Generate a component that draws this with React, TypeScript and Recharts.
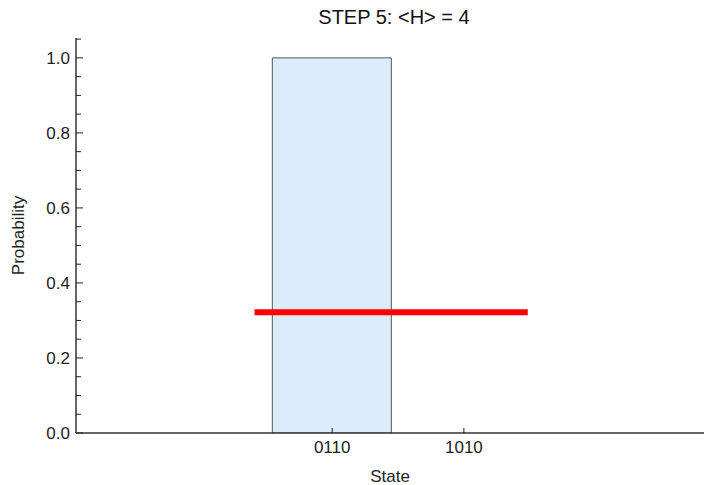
import { ComposedChart, Bar, XAxis, YAxis, ReferenceLine } from "recharts";

document.body.style.margin = "0";

const states = ["0110", "1010"];
const positions = [1, 2];
const probabilities: (number | null)[] = [1.0, null];
const yMajorTicks = [0, 0.2, 0.4, 0.6, 0.8, 1.0];
const yAllTicks = [
  0, 0.05, 0.1, 0.15, 0.2, 0.25, 0.3, 0.35, 0.4, 0.45, 0.5, 0.55, 0.6, 0.65,
  0.7, 0.75, 0.8, 0.85, 0.9, 0.95, 1.0, 1.05,
];
const energyLevel = 0.322;
const energySpan = [0.41, 2.485];

const data = positions.map((x, i) => ({ x, p: probabilities[i] }));

const font = "'Liberation Sans', Arial, sans-serif";

function YTick(props: any) {
  const { x, y, payload } = props;
  const v = payload.value;
  const major = yMajorTicks.some((m) => Math.abs(m - v) < 1e-6);
  return (
    <g>
      <line x1={x} x2={x + (major ? 7 : 5)} y1={y} y2={y} stroke="#222" strokeWidth={1} />
      {major && (
        <text x={x - 6} y={y} dy={6} textAnchor="end" fontSize={17} fill="#222" fontFamily={font}>
          {v.toFixed(1)}
        </text>
      )}
    </g>
  );
}

function XTick(props: any) {
  const { x, y, payload } = props;
  const i = positions.indexOf(payload.value);
  return (
    <g>
      <line x1={x} x2={x} y1={y} y2={y - 5} stroke="#222" strokeWidth={1} />
      <text x={x} y={y + 20} textAnchor="middle" fontSize={17} fill="#222" fontFamily={font}>
        {states[i]}
      </text>
    </g>
  );
}

function TopTick(props: any) {
  const { x, y } = props;
  return <line x1={x} x2={x} y1={y} y2={y + 5} stroke="#222" strokeWidth={1} />;
}

export default function App() {
  return (
    <div style={{ width: 704, height: 485, position: "relative", background: "#fff" }}>
      <div
        style={{
          position: "absolute",
          top: 6,
          left: 76,
          width: 636,
          textAlign: "center",
          fontFamily: font,
          fontSize: 20,
          color: "#111",
        }}
      >
        STEP 5: &lt;H&gt; = 4
      </div>
      <ComposedChart
        width={704}
        height={485}
        data={data}
        margin={{ top: 38, right: 0, bottom: 0, left: 0 }}
      >
        <XAxis
          dataKey="x"
          type="number"
          domain={[-0.945, 3.823]}
          ticks={positions}
          allowDataOverflow
          height={52}
          tickSize={0}
          tickMargin={0}
          tickLine={false}
          tick={<XTick />}
          axisLine={{ stroke: "#333", strokeWidth: 1.5 }}
          label={{ value: "State", position: "insideBottom", offset: 3, fontSize: 17, fill: "#222", fontFamily: font }}
        />
        <XAxis
          xAxisId="top"
          dataKey="x"
          type="number"
          orientation="top"
          domain={[-0.945, 3.823]}
          ticks={positions}
          allowDataOverflow
          height={0}
          tickSize={0}
          tickMargin={0}
          tickLine={false}
          tick={<TopTick />}
          axisLine={{ stroke: "#333", strokeWidth: 1.5 }}
        />
        <YAxis
          type="number"
          domain={[0, 1.053]}
          ticks={yAllTicks}
          allowDataOverflow
          width={76}
          tickSize={0}
          tickMargin={0}
          tickLine={false}
          tick={<YTick />}
          interval={0}
          axisLine={{ stroke: "#333", strokeWidth: 1.5 }}
          label={{ value: "Probability", angle: -90, position: "insideLeft", offset: 18, fontSize: 17, fill: "#222", fontFamily: font, style: { textAnchor: "middle" } }}
        />
        <Bar dataKey="p" barSize={119} fill="#ddecfc" stroke="#555" strokeWidth={1} isAnimationActive={false} />
        <ReferenceLine
          segment={[
            { x: energySpan[0], y: energyLevel },
            { x: energySpan[1], y: energyLevel },
          ]}
          stroke="#ff0000"
          strokeWidth={6}
          ifOverflow="visible"
        />
      </ComposedChart>
    </div>
  );
}
